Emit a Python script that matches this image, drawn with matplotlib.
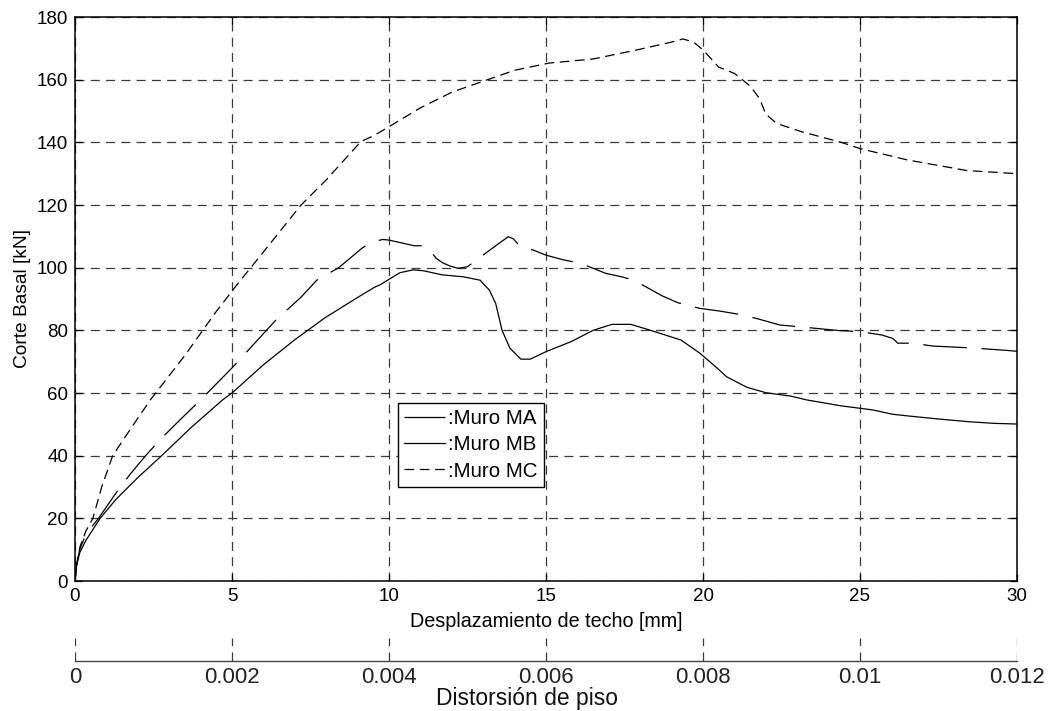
import matplotlib
matplotlib.use("Agg")
import matplotlib.pyplot as plt

plt.rcParams['font.family'] = ['Liberation Sans', 'DejaVu Sans']
plt.rcParams['lines.scale_dashes'] = False

# ---- data ----
ma_x = [0, 0.05, 0.15, 0.35, 0.75, 1.3, 1.75, 2.25, 2.7, 3.3, 4.0, 5.0, 6.4, 7.2, 7.7, 8.4,
        9.15, 9.46, 9.8, 10.0, 10.45, 10.8, 11.05, 11.3, 11.5, 11.7, 11.95, 12.2, 12.5, 12.9,
        13.4, 13.8, 13.96, 14.2, 14.6, 15.0, 15.55, 16.1, 16.9, 17.4, 17.8, 18.7, 19.2, 19.9,
        20.5, 21.1, 21.7, 22.45, 23.0, 24.36, 25.0, 25.7, 26.05, 26.2, 26.7, 27.3, 28.1, 28.7,
        29.8, 30.0]
ma_y = [0, 5, 10, 15, 20, 28, 34, 40, 45, 51, 57.8, 68, 83.3, 90.6, 96, 100,
        106.3, 108.2, 109, 108.8, 107.8, 107, 107, 105.6, 103, 101.6, 100.5, 99.8, 100.3, 103.3,
        107, 109.9, 109.2, 106.5, 105.6, 104, 102.5, 101.4, 98.2, 97.1, 96, 91, 88.8, 87,
        86.2, 85.2, 83.8, 81.7, 81.2, 79.9, 79.6, 78.5, 77.4, 75.9, 75.9, 75, 74.6, 74.3,
        73.5, 73.3]

mb_x = [0, 0.05, 0.15, 0.35, 0.8, 1.3, 2.0, 2.76, 3.7, 4.7, 5.0, 6.0, 7.0, 7.96, 9.0, 9.55,
        9.71, 10.35, 10.77, 11.1, 11.7, 12.36, 12.9, 13.2, 13.4, 13.6, 13.85, 14.2, 14.5, 15.0,
        15.8, 16.5, 17.1, 17.7, 18.3, 19.3, 19.9, 20.4, 20.75, 21.4, 22.0, 22.8, 23.3, 24.4,
        25.4, 26.05, 26.7, 27.5, 28.5, 29.3, 30.0]
mb_y = [0, 5, 9, 13, 20, 26, 33, 40, 49, 57.8, 60, 69, 77, 84, 90.5, 93.8,
        94.5, 98.4, 99.3, 99, 97.7, 97.1, 96, 92.8, 88.5, 80, 74.3, 70.8, 70.8, 73.2,
        76.4, 80, 81.9, 81.9, 80.1, 76.9, 72.7, 68.4, 65.2, 61.8, 60.1, 59, 57.8, 55.9,
        54.6, 53.2, 52.5, 51.7, 50.8, 50.3, 50.1]

mc_x = [0, 0.05, 0.16, 0.35, 0.57, 0.85, 1.2, 1.8, 2.4, 3.5, 4.46, 5.1, 6.0, 7.2, 8.0, 9.1,
        9.55, 10.0, 11.0, 12.0, 13.0, 14.0, 15.1, 16.5, 17.9, 19.0, 19.36, 19.7, 20.0, 20.5,
        21.0, 21.5, 21.8, 22.0, 22.35, 23.1, 24.4, 25.0, 26.5, 28.4, 30.0]
mc_y = [0, 5, 11, 16, 20, 30, 40, 49, 57.8, 72, 85.5, 93.8, 105, 120, 128, 140.2,
        142.3, 145, 151, 156, 159.5, 163, 165.3, 166.6, 169.5, 172, 173, 172, 169.5, 164,
        162, 158, 154, 149, 146, 143.5, 140, 138, 134.4, 131, 130]

labels = [':Muro MA', ':Muro MB', ':Muro MC']
x_ticks = [0, 5, 10, 15, 20, 25, 30]
y_ticks = [0, 20, 40, 60, 80, 100, 120, 140, 160, 180]
drift_ticks = [0, 0.002, 0.004, 0.006, 0.008, 0.010, 0.012]
drift_labels = ['0', '0.002', '0.004', '0.006', '0.008', '0.01', '0.012']

# ---- figure ----
W, H = 1051, 711
fig = plt.figure(figsize=(W / 100, H / 100), dpi=100)

def fx(px):
    return px / W

def fy(py):
    return 1 - py / H

ax = fig.add_axes([fx(75), fy(581), fx(1017) - fx(75), fy(17) - fy(581)])
grid_kw = dict(color='#3a3a3a', linewidth=0.9, linestyle=(0, (6.5, 4.5)))

lw = 0.9
ax.plot(ma_x, ma_y, color='black', linewidth=lw, linestyle=(0, (31.5, 10.5)), label=labels[0])
ax.plot(mb_x, mb_y, color='black', linewidth=lw, linestyle='-', label=labels[1])
ax.plot(mc_x, mc_y, color='black', linewidth=lw, linestyle=(0, (7.0, 4.0)), label=labels[2])

ax.set_xlim(0, 30)
ax.set_ylim(0, 180)
ax.set_xticks(x_ticks)
ax.set_yticks(y_ticks)
ax.grid(True, **grid_kw)
ax.tick_params(direction='in', length=5, width=0.9, top=True, right=True,
               labelsize=13.5, pad=5, colors='black')
for s in ax.spines.values():
    s.set_linewidth(1.1)
    s.set_color('black')
ax.set_xlabel('Desplazamiento de techo [mm]', fontsize=14.2, labelpad=5)
ax.set_ylabel('Corte Basal [kN]', fontsize=13.8, labelpad=4)

leg = ax.legend(loc='upper left', bbox_to_anchor=(fx(398), fy(403)),
                bbox_transform=fig.transFigure, fontsize=14.8, frameon=True,
                fancybox=False, handlelength=2.0, handletextpad=0.15,
                borderpad=0.3, labelspacing=0.35, borderaxespad=0)
leg.get_frame().set_edgecolor('black')
leg.get_frame().set_linewidth(1.0)
leg.get_frame().set_alpha(1)

# ---- lower drift axis ----
ax2 = fig.add_axes([fx(75), fy(661), fx(1017) - fx(75), fy(638) - fy(661)])
ax2.set_xlim(0, 0.012)
ax2.set_ylim(0, 1)
ax2.set_xticks(drift_ticks)
ax2.set_xticklabels(drift_labels)
ax2.set_yticks([])
ax2.patch.set_alpha(0)
for side in ['top', 'left', 'right']:
    ax2.spines[side].set_visible(False)
ax2.spines['bottom'].set_color('#444444')
ax2.spines['bottom'].set_linewidth(1.0)
ax2.grid(True, axis='x', **grid_kw)
ax2.tick_params(axis='x', direction='out', length=0, labelsize=16.0, pad=4,
                colors='#222222')
fig.text(fx(527), fy(698), 'Distorsión de piso', fontsize=16.5, ha='center',
         va='center', color='#111111')

fig.savefig('out.png', dpi=100)
